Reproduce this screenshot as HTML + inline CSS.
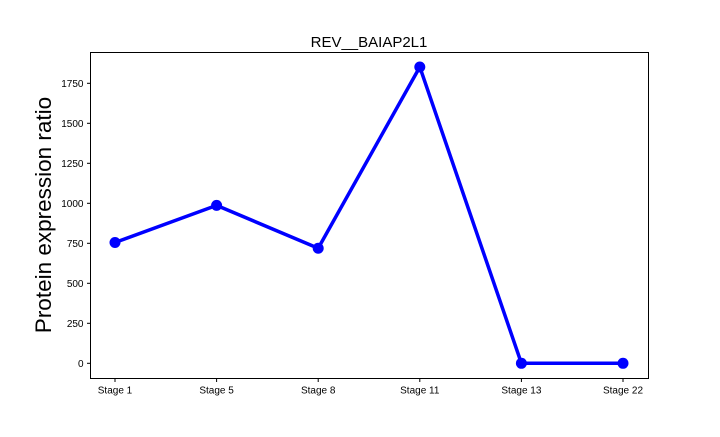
<!DOCTYPE html>
<html><head><meta charset="utf-8"><style>
body{margin:0;background:#fff;font-family:"Liberation Sans",sans-serif}
</style></head><body>
<svg width="720" height="432" xmlns="http://www.w3.org/2000/svg">
<g id="g"></g>
</svg>
<script>
const categories=["Stage 1","Stage 5","Stage 8","Stage 11","Stage 13","Stage 22"];
const values=[755,987,719,1852,0,0];
const yTicks=[0,250,500,750,1000,1250,1500,1750];
const NS="http://www.w3.org/2000/svg";
const g=document.getElementById('g');
const L=90.5,R=648.5,T=52.5,B=378.5;
const x=i=>115+i*101.6;
const y=v=>363.3-v*0.16;
function mk(t,a,p){const e=document.createElementNS(NS,t);for(const k in a)e.setAttribute(k,a[k]);(p||g).appendChild(e);return e;}
let e=mk('rect',{x:L,y:T,width:R-L,height:B-T,fill:'none',stroke:'#000','stroke-width':1});


yTicks.forEach(v=>{
 const t=mk('line',{x1:L-3.5,x2:L,y1:y(v),y2:y(v),stroke:'#000'});
 
 
 const s=mk('text',{x:L-7,y:y(v)+3.5,'text-anchor':'end','font-size':10,fill:'#000'});
 s.textContent=v;
 
 
});
categories.forEach((c,i)=>{
 const t=mk('line',{x1:x(i),x2:x(i),y1:B,y2:B+3.5,stroke:'#000'});
 
 
 const s=mk('text',{x:x(i),y:B+15,'text-anchor':'middle','font-size':10,fill:'#000'});
 s.textContent=c;
 
 
});
const pl=mk('polyline',{points:values.map((v,i)=>x(i)+','+y(v)).join(' '),fill:'none',stroke:'#0000ff','stroke-width':3.5,'stroke-linejoin':'round'});


values.forEach((v,i)=>{
 const c=mk('circle',{cx:x(i),cy:y(v),r:5.5,fill:'#0000ff'});
 
 
});
const ti=mk('text',{x:369,y:47,'text-anchor':'middle','font-size':15,fill:'#000'});
ti.textContent='REV__BAIAP2L1';


const yl=mk('text',{x:0,y:0,'text-anchor':'middle','font-size':22.5,fill:'#000',transform:'translate(51,215) rotate(-90)'});
yl.textContent='Protein expression ratio';


</script>
</body></html>
